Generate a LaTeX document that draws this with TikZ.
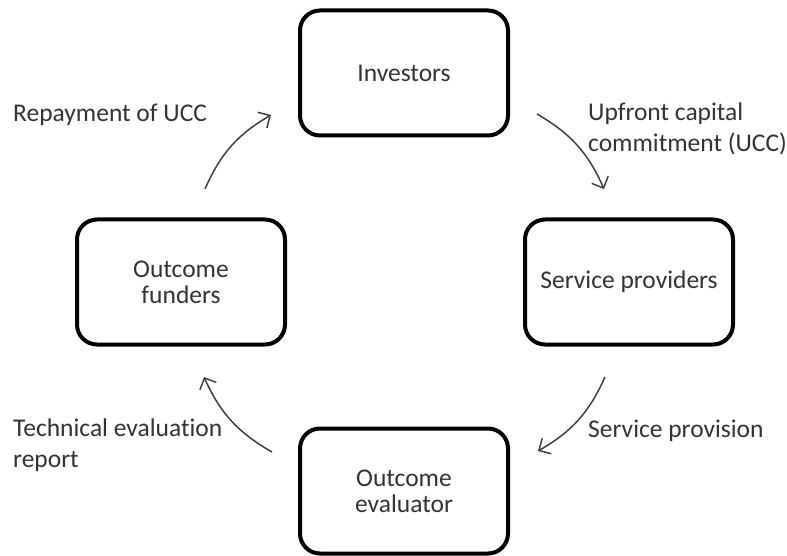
\documentclass[tikz,border=0pt]{standalone}
\usepackage{fontspec}
\setmainfont{Carlito}[Ligatures={NoCommon,NoRare,NoContextual}]
\usetikzlibrary{arrows.meta}
\begin{document}
\begin{tikzpicture}[x=1pt,y=-1pt,
  box/.style={draw=black, line width=4pt, rounded corners=20pt, minimum width=208pt, minimum height=125pt, align=center, font=\fontsize{25.5}{26}\selectfont, text=black!80, inner sep=0pt},
  lbl/.style={anchor=base west, align=left, font=\fontsize{25.5}{31}\selectfont, text=black!80, inner sep=0pt},
  flow/.style={draw=black!75, line width=1.5pt, -{Straight Barb[length=9pt,width=18pt,line width=1.5pt]}, bend left=18}]
\useasboundingbox (0,0) rectangle (787,556);
\node[box] (inv) at (404,73) {Investors};
\node[box] (sp) at (629,282) {Service providers};
\node[box] (of) at (181,282) {Outcome\\funders};
\node[box] (oe) at (404,491) {Outcome\\evaluator};
\node[lbl] (l1) at (13,122) {Repayment of UCC};
\node[lbl] (l2) at (588,152) {Upfront capital\\commitment (UCC)};
\node[lbl] (l3) at (588,437) {Service provision};
\node[lbl] (l4) at (13,467) {Technical evaluation\\report};
\coordinate (a1s) at (205,189); \coordinate (a1e) at (271,115);
\coordinate (a2s) at (537,114); \coordinate (a2e) at (604,189);
\coordinate (a3s) at (605,377); \coordinate (a3e) at (538,451);
\coordinate (a4s) at (272,452); \coordinate (a4e) at (204,377);
\draw[flow] (a1s) to (a1e);
\draw[flow] (a2s) to (a2e);
\draw[flow] (a3s) to (a3e);
\draw[flow] (a4s) to (a4e);
\end{tikzpicture}
\end{document}
